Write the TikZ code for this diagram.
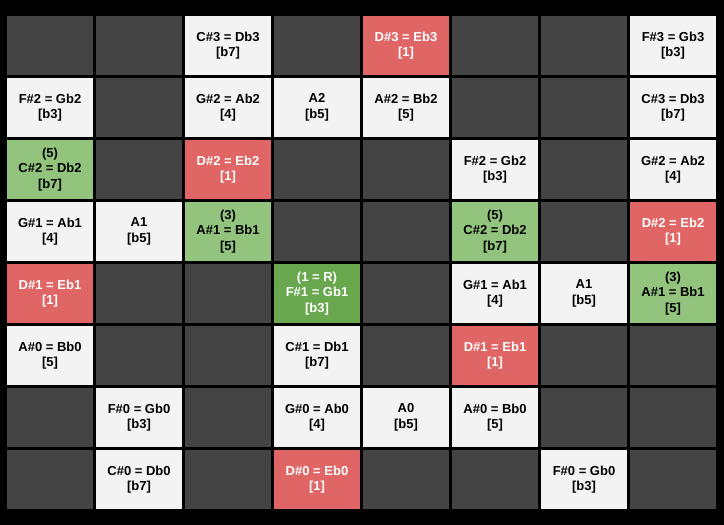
\documentclass[tikz,border=0pt]{standalone}
\usepackage{fontspec}
\setmainfont{Liberation Sans}
\definecolor{EmptyClr}{HTML}{444444}
\definecolor{NoteClr}{HTML}{F3F3F3}
\definecolor{TonicClr}{HTML}{E06666}
\definecolor{ChordClr}{HTML}{93C47D}
\definecolor{RootClr}{HTML}{6AA84F}

\begin{document}
\begin{tikzpicture}[x=1pt,y=-1pt,
  cell/.style={minimum width=86pt,minimum height=59pt,inner sep=0pt,align=center,
    font=\fontsize{13}{15.5}\selectfont\bfseries},
  empty/.style={cell,fill=EmptyClr},
  note/.style={cell,fill=NoteClr,text=black},
  tonic/.style={cell,fill=TonicClr,text=white},
  chord/.style={cell,fill=ChordClr,text=black},
  root/.style={cell,fill=RootClr,text=white}]

\fill[black] (0,0) rectangle (724,525);
\useasboundingbox (0,0) rectangle (724,525);

% empty frets (column/row)
\foreach \c/\r in {0/0,1/0,3/0,5/0,6/0, 1/1,5/1,6/1, 1/2,3/2,4/2,6/2,
  3/3,4/3,6/3, 1/4,2/4,4/4, 1/5,2/5,4/5,6/5,7/5,
  0/6,2/6,6/6,7/6, 0/7,2/7,4/7,5/7,7/7}
  \node[empty] (e-\c-\r) at (50+89*\c,45.5+62*\r) {};

% row 0
\node[note]  (n-2-0) at (228,45.5) {C\#3 = Db3\\{[b7]}};
\node[tonic] (n-4-0) at (406,45.5) {D\#3 = Eb3\\{[1]}};
\node[note]  (n-7-0) at (673,45.5) {F\#3 = Gb3\\{[b3]}};
% row 1
\node[note]  (n-0-1) at (50,107.5) {F\#2 = Gb2\\{[b3]}};
\node[note]  (n-2-1) at (228,107.5) {G\#2 = Ab2\\{[4]}};
\node[note]  (n-3-1) at (317,107.5) {A2\\{[b5]}};
\node[note]  (n-4-1) at (406,107.5) {A\#2 = Bb2\\{[5]}};
\node[note]  (n-7-1) at (673,107.5) {C\#3 = Db3\\{[b7]}};
% row 2
\node[chord] (n-0-2) at (50,169.5) {(5)\\C\#2 = Db2\\{[b7]}};
\node[tonic] (n-2-2) at (228,169.5) {D\#2 = Eb2\\{[1]}};
\node[note]  (n-5-2) at (495,169.5) {F\#2 = Gb2\\{[b3]}};
\node[note]  (n-7-2) at (673,169.5) {G\#2 = Ab2\\{[4]}};
% row 3
\node[note]  (n-0-3) at (50,231.5) {G\#1 = Ab1\\{[4]}};
\node[note]  (n-1-3) at (139,231.5) {A1\\{[b5]}};
\node[chord] (n-2-3) at (228,231.5) {(3)\\A\#1 = Bb1\\{[5]}};
\node[chord] (n-5-3) at (495,231.5) {(5)\\C\#2 = Db2\\{[b7]}};
\node[tonic] (n-7-3) at (673,231.5) {D\#2 = Eb2\\{[1]}};
% row 4
\node[tonic] (n-0-4) at (50,293.5) {D\#1 = Eb1\\{[1]}};
\node[root]  (n-3-4) at (317,293.5) {(1 = R)\\F\#1 = Gb1\\{[b3]}};
\node[note]  (n-5-4) at (495,293.5) {G\#1 = Ab1\\{[4]}};
\node[note]  (n-6-4) at (584,293.5) {A1\\{[b5]}};
\node[chord] (n-7-4) at (673,293.5) {(3)\\A\#1 = Bb1\\{[5]}};
% row 5
\node[note]  (n-0-5) at (50,355.5) {A\#0 = Bb0\\{[5]}};
\node[note]  (n-3-5) at (317,355.5) {C\#1 = Db1\\{[b7]}};
\node[tonic] (n-5-5) at (495,355.5) {D\#1 = Eb1\\{[1]}};
% row 6
\node[note]  (n-1-6) at (139,417.5) {F\#0 = Gb0\\{[b3]}};
\node[note]  (n-3-6) at (317,417.5) {G\#0 = Ab0\\{[4]}};
\node[note]  (n-4-6) at (406,417.5) {A0\\{[b5]}};
\node[note]  (n-5-6) at (495,417.5) {A\#0 = Bb0\\{[5]}};
% row 7
\node[note]  (n-1-7) at (139,479.5) {C\#0 = Db0\\{[b7]}};
\node[tonic] (n-3-7) at (317,479.5) {D\#0 = Eb0\\{[1]}};
\node[note]  (n-6-7) at (584,479.5) {F\#0 = Gb0\\{[b3]}};

\end{tikzpicture}
\end{document}
